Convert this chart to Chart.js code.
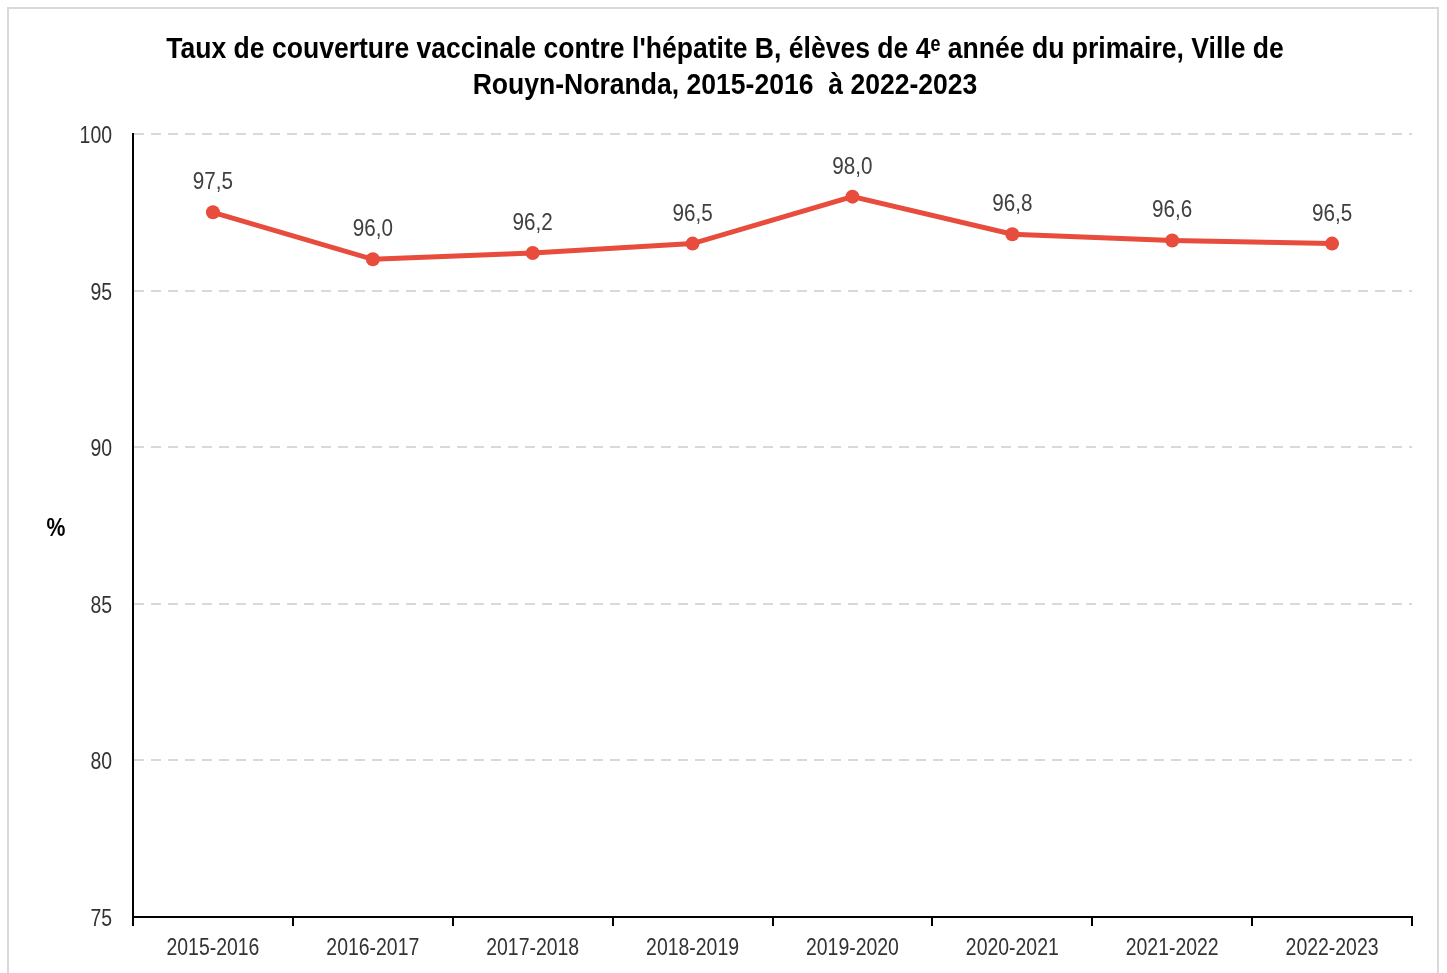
<!DOCTYPE html>
<html>
<head>
<meta charset="utf-8">
<script src="https://cdn.jsdelivr.net/npm/chart.js@4.4.1/dist/chart.umd.min.js"></script>
<style>
  html, body { margin: 0; padding: 0; background: #fff; }
  #wrap { position: relative; width: 1447px; height: 973px; }
  #frame { position: absolute; left: 7px; top: 7px; width: 1432px; height: 980px; border: 2px solid #d9d9d9; pointer-events: none; box-sizing: border-box; }
  canvas { position: absolute; left: 0; top: 0; }
</style>
</head>
<body>
<div id="wrap">
  <canvas id="c" width="1447" height="973"></canvas>
  <div id="frame"></div>
</div>
<script>
const categories = ['2015-2016', '2016-2017', '2017-2018', '2018-2019', '2019-2020', '2020-2021', '2021-2022', '2022-2023'];
const coverage = [97.5, 96.0, 96.2, 96.5, 98.0, 96.8, 96.6, 96.5];
const yTicks = [75, 80, 85, 90, 95, 100];
const titleLines = ["Taux de couverture vaccinale contre l'hépatite B, élèves de 4ᵉ année du primaire, Ville de", "Rouyn-Noranda, 2015-2016  à 2022-2023"];
const yLabel = '%';

const FONT = '"Liberation Sans Narrow", "Arial Narrow", "Liberation Sans", Arial, sans-serif';
const LINE_COLOR = '#e74c3c';

// draw text horizontally condensed (the narrow face is not installed)
function condensedText(ctx, text, x, y, sx, align) {
  ctx.save();
  ctx.translate(x, y);
  ctx.scale(sx, 1);
  ctx.textAlign = align;
  ctx.fillText(text, 0, 0);
  ctx.restore();
}

const textPlugin = {
  id: 'texts',
  afterDraw(chart) {
    const ctx = chart.ctx;
    const xs = chart.scales.x, ys = chart.scales.y;
    ctx.save();
    ctx.textBaseline = 'alphabetic';

    // title
    ctx.fillStyle = '#000';
    ctx.font = 'bold 30px ' + FONT;
    condensedText(ctx, titleLines[0], 725, 58, 0.885, 'center');
    condensedText(ctx, titleLines[1], 725, 94, 0.885, 'center');

    // y label
    ctx.font = 'bold 25px ' + FONT;
    condensedText(ctx, yLabel, 56, 536, 0.85, 'center');

    // tick labels
    ctx.fillStyle = '#333';
    ctx.font = '24px ' + FONT;
    categories.forEach((c, i) => {
      condensedText(ctx, c, xs.getPixelForTick(i), 955, 0.81, 'center');
    });
    yTicks.forEach(v => {
      condensedText(ctx, String(v), 112, ys.getPixelForValue(v) + 9, 0.81, 'right');
    });

    // data labels
    const meta = chart.getDatasetMeta(0);
    ctx.font = '24px ' + FONT;
    ctx.fillStyle = '#404040';
    meta.data.forEach((pt, i) => {
      const v = chart.data.datasets[0].data[i];
      condensedText(ctx, v.toFixed(1).replace('.', ','), pt.x, pt.y - 23, 0.86, 'center');
    });
    ctx.restore();
  }
};

new Chart(document.getElementById('c'), {
  type: 'line',
  data: {
    labels: categories,
    datasets: [{
      data: coverage,
      borderColor: LINE_COLOR,
      backgroundColor: LINE_COLOR,
      borderWidth: 5,
      pointRadius: 7,
      pointHoverRadius: 7,
      pointBackgroundColor: LINE_COLOR,
      pointBorderWidth: 0,
      tension: 0,
      fill: false
    }]
  },
  options: {
    responsive: false,
    animation: false,
    layout: { padding: { top: 134, right: 35, left: 0, bottom: 0 } },
    plugins: { legend: { display: false }, title: { display: false }, tooltip: { enabled: false } },
    scales: {
      x: {
        offset: true,
        grid: { offset: true, drawOnChartArea: false, drawTicks: true, tickLength: 9, tickColor: '#000', lineWidth: 2 },
        border: { display: true, color: '#000', width: 2 },
        ticks: { display: false, autoSkip: false },
        afterFit(s) { s.height = 56; }
      },
      y: {
        min: 75,
        max: 100,
        afterBuildTicks(s) { s.ticks = yTicks.map(v => ({ value: v })); },
        grid: { color: '#d9d9d9', lineWidth: 2, drawTicks: false },
        border: { display: true, color: '#000', width: 2, dash: [10, 7] },
        ticks: { display: false },
        afterFit(s) { s.width = 133; }
      }
    }
  },
  plugins: [textPlugin]
});
</script>
</body>
</html>
